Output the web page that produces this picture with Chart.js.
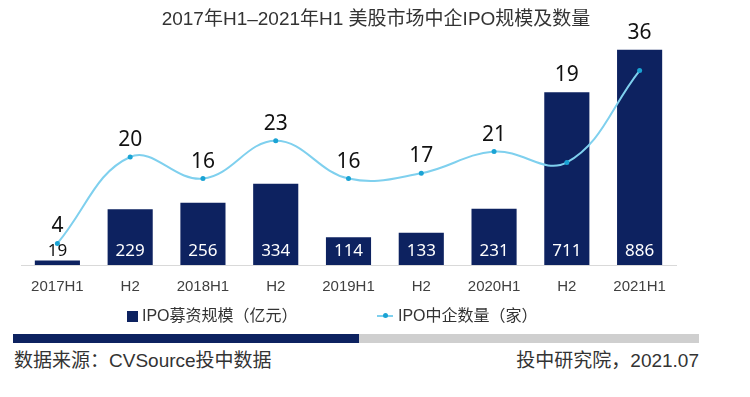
<!DOCTYPE html>
<html>
<head>
<meta charset="utf-8">
<script src="https://cdn.jsdelivr.net/npm/chart.js@4"></script>
<style>
  body { margin: 0; background: #fff; }
  #wrap { position: relative; width: 750px; height: 397px; overflow: hidden;
    font-family: "Liberation Sans", "Noto Sans CJK SC", sans-serif; color: #333; }
  #title { position: absolute; top: 3px; left: 0; width: 752px; text-align: center; font-size: 19px; color: #333; }
  #box { position: absolute; left: 0; top: 0; width: 750px; height: 316px; }
  .legend { position: absolute; top: 307px; font-size: 16px; color: #333; line-height: 18px; white-space: nowrap; }
  .sq { display: inline-block; width: 11px; height: 11px; background: #0d2260; vertical-align: -1px; margin-right: 4px; }
  .ln { display: inline-block; position: relative; width: 16px; height: 2px; background: #7fd0ee; vertical-align: 4px; margin-right: 5px; }
  .ln i { position: absolute; left: 6px; top: -2px; width: 5px; height: 5px; border-radius: 50%; background: #1aa3d4; }
  #band1 { position: absolute; left: 13px; top: 334px; width: 346px; height: 9px; background: #0d2260; }
  #band2 { position: absolute; left: 359px; top: 334px; width: 340px; height: 9px; background: #cfcfcf; }
  .foot { position: absolute; top: 345px; font-size: 19px; color: #333; }
</style>
</head>
<body>
<div id="wrap">
  <div id="box"><canvas id="c"></canvas></div>
  <div id="title">2017年H1–2021年H1 美股市场中企IPO规模及数量</div>
  <div class="legend" style="left:127px"><span class="sq"></span>IPO募资规模（亿元）</div>
  <div class="legend" style="left:377px"><span class="ln"><i></i></span>IPO中企数量（家）</div>
  <div id="band1"></div>
  <div id="band2"></div>
  <div class="foot" style="left:14px">数据来源：CVSource投中数据</div>
  <div class="foot" style="right:51px">投中研究院，2021.07</div>
</div>
<script>
const periods = ['2017H1', 'H2', '2018H1', 'H2', '2019H1', 'H2', '2020H1', 'H2', '2021H1'];
const ipoAmount = [19, 229, 256, 334, 114, 133, 231, 711, 886];
const ipoCount = [4, 20, 16, 23, 16, 17, 21, 19, 36];

const NAVY = '#0d2260';

// value labels: amounts at the bar foot, counts above the point or the bar top
const valueLabels = {
  id: 'valueLabels',
  afterDatasetsDraw(chart) {
    const ctx = chart.ctx;
    const bars = chart.getDatasetMeta(1).data;
    const pts = chart.getDatasetMeta(0).data;
    const base = chart.scales.y.getPixelForValue(0);
    ctx.save();
    ctx.textAlign = 'center';
    ctx.textBaseline = 'middle';
    bars.forEach((bar, i) => {
      const h = base - bar.y;
      ctx.font = '17px "Noto Sans", "DejaVu Sans", sans-serif';
      ctx.fillStyle = h < 22 ? '#111' : '#fff';
      ctx.fillText(ipoAmount[i], bar.x, base - 14);
    });
    pts.forEach((p, i) => {
      const top = Math.min(p.y, bars[i].y);
      ctx.font = '21px "Noto Sans", "DejaVu Sans", sans-serif';
      ctx.fillStyle = '#111';
      ctx.fillText(ipoCount[i], p.x, top - 17);
    });
    ctx.restore();
  }
};

new Chart(document.getElementById('c'), {
  data: {
    labels: periods,
    datasets: [
      {
        type: 'line',
        label: 'IPO中企数量（家）',
        data: ipoCount,
        yAxisID: 'y1',
        borderColor: '#7fd0ee',
        borderWidth: 2,
        tension: 0.4,
        pointRadius: 2.5,
        pointBackgroundColor: '#1aa3d4',
        pointBorderWidth: 0,
        order: 0,
      },
      {
        type: 'bar',
        label: 'IPO募资规模（亿元）',
        data: ipoAmount,
        yAxisID: 'y',
        backgroundColor: NAVY,
        categoryPercentage: 1,
        barPercentage: 0.62,
        order: 1,
      },
    ],
  },
  options: {
    responsive: true,
    maintainAspectRatio: false,
    animation: false,
    layout: { padding: { left: 21, right: 74, top: 22, bottom: 7 } },
    plugins: { legend: { display: false }, tooltip: { enabled: false } },
    scales: {
      x: {
        grid: { display: false, drawTicks: false },
        border: { display: true, color: '#d9d9d9', width: 1 },
        ticks: {
          padding: 13,
          color: '#404040',
          font: { size: 15, family: '"Liberation Sans", sans-serif' },
        },
      },
      y: { display: false, min: 0, max: 1000 },
      y1: { display: false, min: 0, max: 45 },
    },
  },
  plugins: [valueLabels],
});
</script>
</body>
</html>
